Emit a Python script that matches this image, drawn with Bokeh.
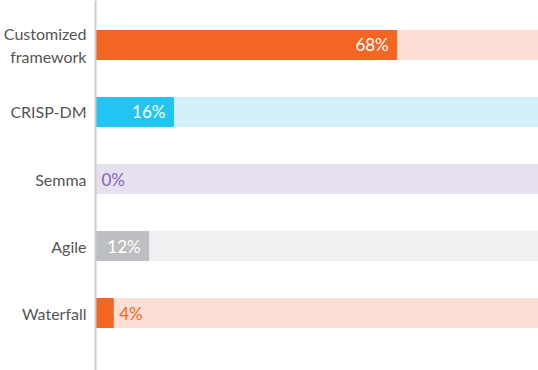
from bokeh.plotting import figure
from bokeh.models import ColumnDataSource, Range1d, FixedTicker
from bokeh.embed import file_html
from bokeh.resources import INLINE
from bokeh.core.properties import value

categories = ["Customized\nframework", "CRISP-DM", "Semma", "Agile", "Waterfall"]
bar_values = [68, 17.6, 0, 12, 4]          # bar lengths as drawn
value_labels = ["68%", "16%", "0%", "12%", "4%"]  # printed labels
bar_colors = ["#F26522", "#22C4F2", "#8B63B5", "#BDBEC1", "#F26522"]
bg_colors = ["#FCE0D5", "#D4F1FB", "#E6E0EF", "#F0F0F2", "#FCE0D5"]
label_colors_outside = ["#F26522", "#22C4F2", "#8B63B5", "#9A9A9A", "#F26522"]

n = len(categories)
ypos = [n - 1 - i for i in range(n)]
inside = [v >= 10 for v in bar_values]

inside_src = ColumnDataSource(dict(
    x=[v for v, ins in zip(bar_values, inside) if ins],
    y=[y for y, ins in zip(ypos, inside) if ins],
    t=[l for l, ins in zip(value_labels, inside) if ins],
))
outside_src = ColumnDataSource(dict(
    x=[v for v, ins in zip(bar_values, inside) if not ins],
    y=[y for y, ins in zip(ypos, inside) if not ins],
    t=[l for l, ins in zip(value_labels, inside) if not ins],
    c=[c for c, ins in zip(label_colors_outside, inside) if not ins],
))

p = figure(width=538, height=370, output_backend="svg", toolbar_location=None,
           x_range=Range1d(0, 100), y_range=Range1d(-0.858, 4.664),
           min_border_left=95, min_border_right=0, min_border_top=0, min_border_bottom=0)

p.hbar(y=ypos, left=0, right=100, height=0.433, color=bg_colors)
p.hbar(y=ypos, left=0, right=bar_values, height=0.433, color=bar_colors)

p.text(x="x", y="y", text="t", source=inside_src, text_color="white",
       text_align="right", text_baseline="middle", x_offset=-8,
       text_font=value("Lato"), text_font_size="17px")
p.text(x="x", y="y", text="t", source=outside_src, text_color="c",
       text_align="left", text_baseline="middle", x_offset=6,
       text_font=value("Lato"), text_font_size="17px")

p.xaxis.visible = False
p.grid.visible = False
p.outline_line_color = None

ax = p.yaxis[0]
ax.ticker = FixedTicker(ticks=ypos)
ax.major_label_overrides = {y: c for y, c in zip(ypos, categories)}
ax.major_tick_line_color = None
ax.minor_tick_line_color = None
ax.major_tick_out = 0
ax.major_tick_in = 0
ax.minor_tick_out = 0
ax.minor_tick_in = 0
ax.axis_line_color = "#CCCCCC"
ax.axis_line_width = 2
ax.major_label_standoff = 9
ax.major_label_text_font = "Lato"
ax.major_label_text_font_size = "16px"
ax.major_label_text_color = "#555555"
ax.major_label_text_align = "right"

open("out.html", "w").write(file_html(p, INLINE))
